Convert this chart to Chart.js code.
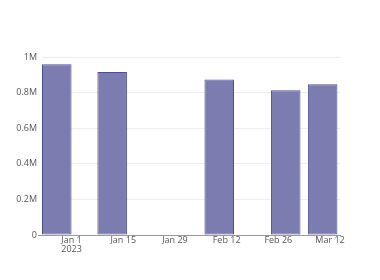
<!DOCTYPE html>
<html>
<head>
<meta charset="utf-8">
<script src="https://cdn.jsdelivr.net/npm/chart.js@4"></script>
<style>
  html, body { margin: 0; padding: 0; background: #fff; }
  #wrap { width: 380px; height: 280px; }
</style>
</head>
<body>
<div id="wrap"><canvas id="myChart" width="380" height="280"></canvas></div>
<script>
// days counted from Jan 1 2023 (0 = Jan 1)
const dayOffsets = [-4, 11, 40, 58, 68];
const values = [959000, 916000, 873000, 813000, 847000];
const tickDays = [0, 14, 28, 42, 56, 70];
const tickLabels = [['Jan 1', '2023'], 'Jan 15', 'Jan 29', 'Feb 12', 'Feb 26', 'Mar 12'];
const yTicks = [0, 200000, 400000, 600000, 800000, 1000000];
const yTickLabels = ['0', '0.2M', '0.4M', '0.6M', '0.8M', '1M'];

const points = dayOffsets.map((d, i) => ({ x: d, y: values[i] }));

const ctx = document.getElementById('myChart').getContext('2d');
const myChart = new Chart(ctx, {
    type: 'bar',
    data: {
        datasets: [{
            data: points,
            backgroundColor: 'rgba(124, 124, 176, 1)',
            borderColor: 'rgba(78, 78, 150, 1)',
            borderWidth: 1,
            borderSkipped: false,
            categoryPercentage: 1,
            barPercentage: 0.8
        }]
    },
    options: {
        responsive: false,
        animation: false,
        layout: { padding: { left: 0, top: 57, right: 40, bottom: 0 } },
        plugins: {
            legend: { display: false },
            tooltip: { enabled: false }
        },
        scales: {
            x: {
                type: 'linear',
                min: -8,
                max: 72.7,
                offset: false,
                grid: { display: false, offset: false, drawTicks: false },
                border: { display: true, color: '#999', width: 1 },
                afterBuildTicks: (axis) => {
                    axis.ticks = tickDays.map(v => ({ value: v }));
                },
                afterFit: (axis) => { axis.height = 45; },
                ticks: {
                    autoSkip: false,
                    maxRotation: 0,
                    padding: 1,
                    color: '#555',
                    font: { family: 'Open Sans', size: 9, lineHeight: 1.0 },
                    callback: (value) => {
                        const idx = tickDays.indexOf(value);
                        return idx >= 0 ? tickLabels[idx] : '';
                    }
                }
            },
            y: {
                min: 0,
                max: 1000000,
                grid: {
                    color: '#eeeeee',
                    drawTicks: true,
                    tickLength: 4,
                    tickColor: (c) => c.tick && c.tick.value === 0 ? '#999' : 'rgba(0,0,0,0)'
                },
                border: { display: false },
                afterBuildTicks: (axis) => {
                    axis.ticks = yTicks.map(v => ({ value: v }));
                },
                afterFit: (axis) => { axis.width = 42; },
                ticks: {
                    padding: 1,
                    color: '#555',
                    font: { family: 'Open Sans', size: 9 },
                    callback: (value) => {
                        const idx = yTicks.indexOf(value);
                        return idx >= 0 ? yTickLabels[idx] : '';
                    }
                }
            }
        }
    }
});
</script>
</body>
</html>
